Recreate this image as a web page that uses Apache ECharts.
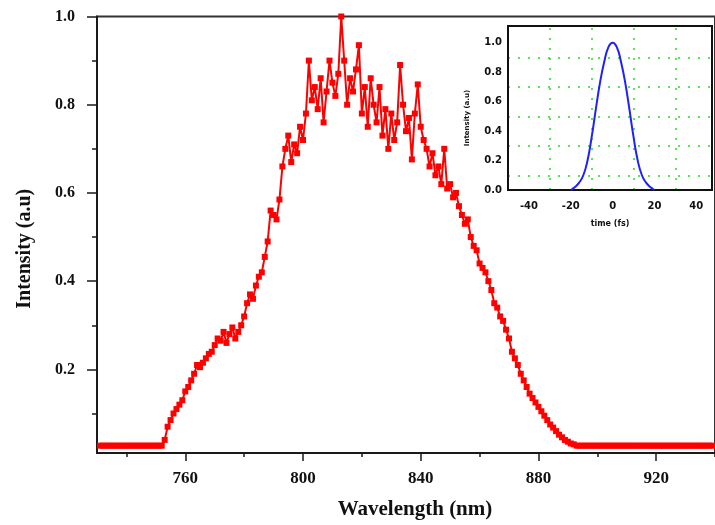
<!DOCTYPE html>
<html>
<head>
<meta charset="utf-8">
<script src="https://cdn.jsdelivr.net/npm/echarts@6/dist/echarts.min.js"></script>
<style>html,body{margin:0;padding:0;background:#fff;}#c{width:715px;height:525px;}</style>
</head>
<body>
<div id="c"></div>
<script>
// ---- main spectrum data ----
const wlStart = 731;           // first wavelength (nm), 1 nm spacing
const baselineLevel = 0.027;
const leftBaselineEnd = 752;
const spectrumStart = 753;
const spectrumValues = [
  0.04,0.07,0.085,0.10,0.11,0.12,0.13,0.15,0.16,0.175,          // 753-762
  0.19,0.21,0.205,0.215,0.225,0.235,0.24,0.255,0.27,0.265,      // 763-772
  0.285,0.26,0.28,0.295,0.27,0.285,0.30,0.32,0.35,0.37,         // 773-782
  0.36,0.39,0.41,0.42,0.455,0.49,0.56,0.55,0.54,0.585,          // 783-792
  0.66,0.70,0.73,0.67,0.71,0.69,0.75,0.72,0.78,0.90,            // 793-802
  0.81,0.84,0.79,0.86,0.76,0.83,0.90,0.85,0.82,0.87,            // 803-812
  1.0,0.90,0.80,0.86,0.83,0.88,0.935,0.78,0.84,0.75,            // 813-822
  0.86,0.80,0.76,0.84,0.73,0.79,0.70,0.78,0.72,0.76,            // 823-832
  0.89,0.80,0.74,0.77,0.676,0.78,0.846,0.75,0.72,0.70,          // 833-842
  0.66,0.69,0.64,0.66,0.62,0.70,0.61,0.62,0.59,0.60,            // 843-852
  0.57,0.55,0.53,0.54,0.50,0.48,0.47,0.44,0.43,0.42,            // 853-862
  0.40,0.38,0.35,0.34,0.32,0.31,0.29,0.27,0.24,0.225,           // 863-872
  0.21,0.19,0.175,0.16,0.145,0.135,0.125,0.115,0.105,0.095,     // 873-882
  0.085,0.075,0.068,0.06,0.052,0.046,0.04,0.036,0.032,0.03      // 883-892
];
const wlEnd = 939;

// axis ticks / labels (main)
const xMajor = [760, 800, 840, 880, 920];
const xMinor = [740, 780, 820, 860, 900, 940];
const yMajor = [0.2, 0.4, 0.6, 0.8, 1.0];
const yMinor = [0.1, 0.3, 0.5, 0.7, 0.9];

// ---- inset: temporal pulse ----
const pulseTime = [-20,-18,-16,-14,-12,-10,-8,-6,-4,-2,0,2,4,6,8,10,12,14,16,18,20];
const pulseInt  = [0,0.02,0.05,0.10,0.20,0.36,0.55,0.73,0.87,0.97,1.0,0.97,0.87,0.73,0.55,0.36,0.20,0.10,0.05,0.02,0];
const insetXLabels = [-40, -20, 0, 20, 40];
const insetYLabels = [0, 0.2, 0.4, 0.6, 0.8, 1.0];
const insetGridX = [-30, -10, 10, 30];
const insetGridY = [0.1, 0.3, 0.5, 0.7, 0.9];

// build spectrum points
const spectrum = [];
for (let w = wlStart; w <= leftBaselineEnd; w++) spectrum.push([w, baselineLevel]);
spectrumValues.forEach((v, i) => spectrum.push([spectrumStart + i, v]));
for (let w = spectrumStart + spectrumValues.length; w <= wlEnd; w++) spectrum.push([w, baselineLevel]);

const pulse = pulseTime.map((t, i) => [t, pulseInt[i]]);

const serif = '"Liberation Serif", "DejaVu Serif", serif';
const sans = '"DejaVu Sans", "Liberation Sans", sans-serif';
const axisCol = '#1a1a1a';

const chart = echarts.init(document.getElementById('c'), null, {renderer: 'canvas'});
chart.setOption({
  animation: false,
  backgroundColor: '#fff',
  grid: [
    {left: 97, top: 16.5, right: -6, bottom: 70, show: true, borderColor: '#333', borderWidth: 2, containLabel: false},
    {left: 508, top: 26, right: 3, bottom: 335, show: true, borderColor: '#111', borderWidth: 2, backgroundColor: '#fff', z: 5, containLabel: false}
  ],
  xAxis: [
    {gridIndex: 0, type: 'value', min: 730, max: 940, position: 'bottom',
     name: 'Wavelength (nm)', nameLocation: 'middle', nameGap: 46,
     nameTextStyle: {fontFamily: serif, fontWeight: 'bold', fontSize: 21, color: '#111', padding: [0, 0, 0, 18]},
     axisLine: {show: true, onZero: false, lineStyle: {color: axisCol, width: 2}},
     axisTick: {show: true, inside: false, length: 8, customValues: xMajor, lineStyle: {color: axisCol, width: 1.5}},
     axisLabel: {customValues: xMajor, margin: 17, fontFamily: serif, fontWeight: 'bold', fontSize: 17, color: '#111'},
     splitLine: {show: false}},
    {gridIndex: 0, type: 'value', min: 730, max: 940, position: 'bottom',
     axisLine: {show: false, onZero: false},
     axisTick: {show: true, inside: false, length: 4, customValues: xMinor, lineStyle: {color: axisCol, width: 1.5}},
     axisLabel: {show: false}, splitLine: {show: false}},
    {gridIndex: 1, type: 'value', min: -50, max: 47.5, position: 'bottom',
     name: 'time (fs)', nameLocation: 'middle', nameGap: 30,
     nameTextStyle: {fontFamily: sans, fontWeight: 'bold', fontSize: 8, color: '#111'},
     axisLine: {show: true, onZero: false, lineStyle: {color: '#111', width: 2}},
     axisTick: {show: false},
     axisLabel: {customValues: insetXLabels, margin: 11, fontFamily: sans, fontWeight: 'bold', fontSize: 10, color: '#111'},
     splitLine: {show: false}, z: 6}
  ],
  yAxis: [
    {gridIndex: 0, type: 'value', min: 0.0104, max: 1.0, position: 'left',
     name: 'Intensity (a.u)', nameLocation: 'middle', nameGap: 62, nameRotate: 90,
     nameTextStyle: {fontFamily: serif, fontWeight: 'bold', fontSize: 20, color: '#111', padding: [0, 28, 0, 0]},
     axisLine: {show: true, onZero: false, lineStyle: {color: axisCol, width: 2}},
     axisTick: {show: true, inside: false, length: 10, customValues: yMajor, lineStyle: {color: axisCol, width: 1.5}},
     axisLabel: {customValues: yMajor, margin: 22, formatter: v => v.toFixed(1), fontFamily: serif, fontWeight: 'bold', fontSize: 16, color: '#111'},
     splitLine: {show: false}},
    {gridIndex: 0, type: 'value', min: 0.0104, max: 1.0, position: 'left',
     axisLine: {show: false, onZero: false},
     axisTick: {show: true, inside: false, length: 5, customValues: yMinor, lineStyle: {color: axisCol, width: 1.5}},
     axisLabel: {show: false}, splitLine: {show: false}},
    {gridIndex: 1, type: 'value', min: 0, max: 1.113, position: 'left',
     name: 'Intensity (a.u)', nameLocation: 'middle', nameGap: 37, nameRotate: 90,
     nameTextStyle: {fontFamily: sans, fontWeight: 'bold', fontSize: 7, color: '#111', padding: [0, 20, 0, 0]},
     axisLine: {show: true, onZero: false, lineStyle: {color: '#111', width: 2}},
     axisTick: {show: false},
     axisLabel: {customValues: insetYLabels, margin: 6, formatter: v => v.toFixed(1), fontFamily: sans, fontWeight: 'bold', fontSize: 10, color: '#111'},
     splitLine: {show: false}, z: 6}
  ],
  series: [
    {type: 'line', xAxisIndex: 0, yAxisIndex: 0, data: spectrum,
     symbol: 'rect', symbolSize: 6, showSymbol: true, showAllSymbol: true,
     itemStyle: {color: '#ff0000'}, lineStyle: {color: '#ff0000', width: 2}, z: 2},
    {type: 'line', xAxisIndex: 2, yAxisIndex: 2, data: pulse, smooth: true,
     symbol: 'none', lineStyle: {color: '#1f1fff', width: 2}, z: 7,
     markLine: {silent: true, symbol: ['none', 'none'], animation: false,
       label: {show: false},
       lineStyle: {color: '#22dd22', type: [2, 8], width: 1.5},
       data: insetGridX.map(v => ({xAxis: v})).concat(insetGridY.map(v => ({yAxis: v})))}}
  ]
});
</script>
</body>
</html>
